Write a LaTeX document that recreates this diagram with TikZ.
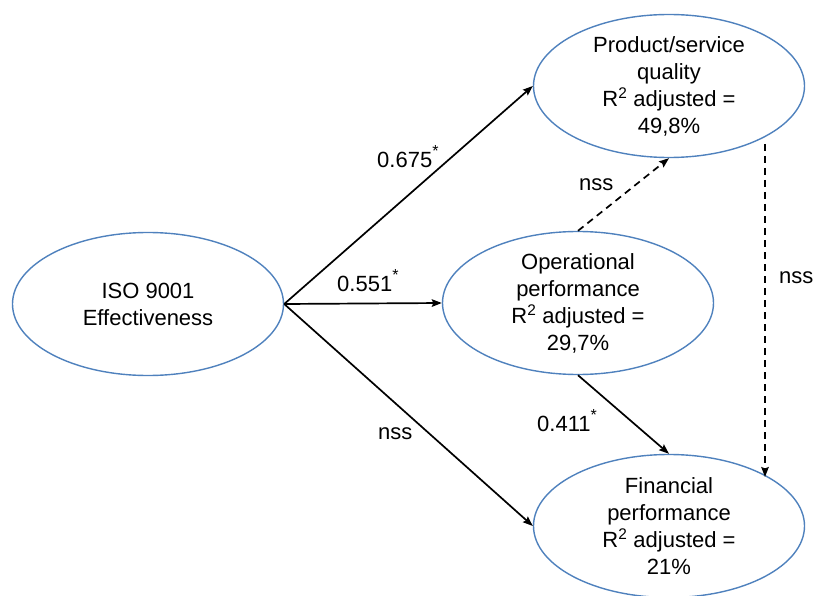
\documentclass[tikz,border=0pt]{standalone}
\usepackage{fontspec}
\setmainfont{Liberation Sans}
\usetikzlibrary{shapes.geometric,arrows.meta}
\definecolor{ringblue}{RGB}{79,129,189}
\newcommand{\sig}{\raisebox{11pt}{\fontsize{16}{16}\selectfont *}}
\begin{document}
\begin{tikzpicture}[x=1pt,y=-1pt,
  construct/.style={ellipse,draw=ringblue,line width=1.4pt,minimum width=271pt,minimum height=143pt,
    inner sep=0pt,align=center,font=\fontsize{22}{27}\selectfont},
  path/.style={line width=1.7pt,-{Stealth[length=10pt,width=7.5pt,inset=1.5pt]}},
  weak/.style={path,dash pattern=on 7pt off 5pt},
  coef/.style={anchor=base west,inner sep=0pt,font=\fontsize{22}{27}\selectfont}]
\useasboundingbox (0,0) rectangle (816,596);

\node[construct] (iso) at (148,304) {ISO 9001\\Effectiveness};
\node[construct] (prod) at (669,86) {Product/service\\quality\\R\textsuperscript{2} adjusted =\\49,8\%};
\node[construct] (oper) at (578,303) {Operational\\performance\\R\textsuperscript{2} adjusted =\\29,7\%};
\node[construct] (fin) at (669,526) {Financial\\performance\\R\textsuperscript{2} adjusted =\\21\%};

\draw[path] (iso.east) -- (prod.west);
\draw[path] (iso.east) -- (oper.west);
\draw[path] (iso.east) -- (fin.west);
\draw[weak] (oper.north) -- (prod.south);
\draw[path] (oper.south) -- (fin.north);
\draw[weak] ([xshift=96pt,yshift=-58pt]prod.center) -- ([xshift=96pt,yshift=49pt]fin.center);

\node[coef] (c1) at (377,168) {0.675\sig};
\node[coef] (c2) at (337,291) {0.551\sig};
\node[coef] (c3) at (537,431) {0.411\sig};
\node[coef] (n1) at (378,439) {nss};
\node[coef] (n2) at (579,191) {nss};
\node[coef] (n3) at (779,283) {nss};
\end{tikzpicture}
\end{document}
